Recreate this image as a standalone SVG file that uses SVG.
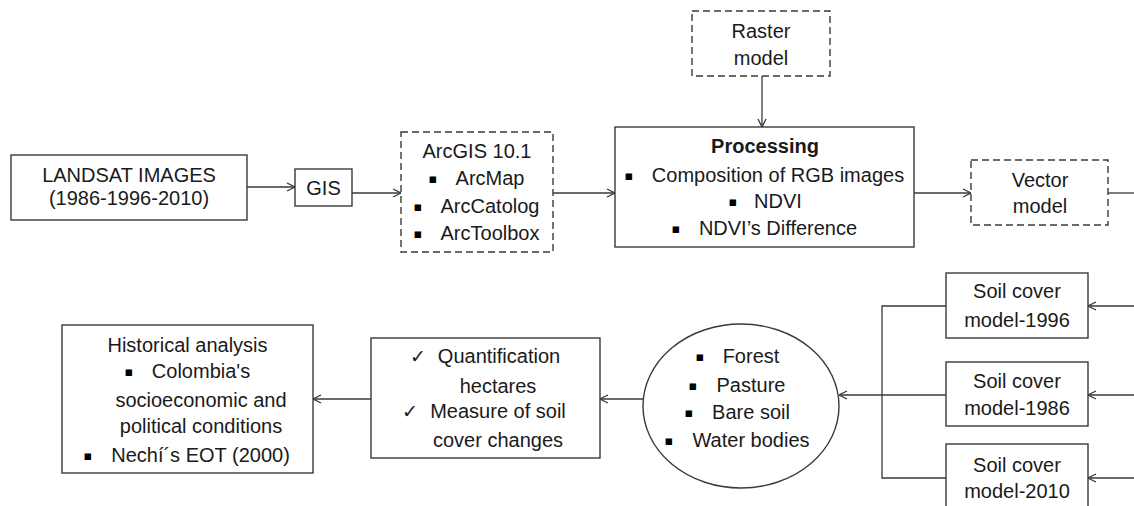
<svg xmlns="http://www.w3.org/2000/svg" width="1134" height="506" viewBox="0 0 1134 506">
<style>
.box{fill:#fff;stroke:#3a3a3a;stroke-width:1.4}
.dash{fill:#fff;stroke:#3a3a3a;stroke-width:1.4;stroke-dasharray:7 4}
.t{font-family:"Liberation Sans","DejaVu Sans",sans-serif;font-size:20px;fill:#1a1a1a}
.c{text-anchor:middle}
.b{font-weight:bold}
.blt{font-family:"DejaVu Sans",sans-serif;font-size:13px;fill:#000;text-anchor:middle}
.chk{font-family:"DejaVu Sans",sans-serif;font-size:19px;fill:#1a1a1a}
.ln{fill:none;stroke:#3a3a3a;stroke-width:1.3}
</style>
<defs>
<marker id="ah" viewBox="0 0 10 10" refX="10" refY="5" markerWidth="10" markerHeight="10" markerUnits="userSpaceOnUse" orient="auto">
<polyline points="2,1 10,5 2,9" fill="none" stroke="#3a3a3a" stroke-width="1.3"/>
</marker>
</defs>

<g id="connectors">
<path class="ln" d="M247,187 H295" marker-end="url(#ah)"/>
<path class="ln" d="M352,193 H401" marker-end="url(#ah)"/>
<path class="ln" d="M553,193 H615" marker-end="url(#ah)"/>
<path class="ln" d="M762,76 V127" marker-end="url(#ah)"/>
<path class="ln" d="M914,193 H971" marker-end="url(#ah)"/>
<path class="ln" d="M1108,193 H1134"/>
<path class="ln" d="M1134,306 H1088" marker-end="url(#ah)"/>
<path class="ln" d="M1134,395 H1088" marker-end="url(#ah)"/>
<path class="ln" d="M1134,478 H1088" marker-end="url(#ah)"/>
<path class="ln" d="M946,306 H882 V478 H946"/>
<path class="ln" d="M946,395 H839" marker-end="url(#ah)"/>
<path class="ln" d="M643,399 H600" marker-end="url(#ah)"/>
<path class="ln" d="M371,399 H313" marker-end="url(#ah)"/>
</g>

<g id="landsat">
<rect class="box" x="11" y="155" width="236" height="65"/>
<text class="t c" x="129" y="182">LANDSAT IMAGES</text>
<text class="t c" x="129" y="205">(1986-1996-2010)</text>
</g>

<g id="gis">
<rect class="box" x="295" y="169" width="57" height="37"/>
<text class="t c" x="323.5" y="195">GIS</text>
</g>

<g id="arcgis">
<rect class="dash" x="401" y="132" width="152" height="120"/>
<text class="t c" x="477" y="158">ArcGIS 10.1</text>
<text class="blt" x="433" y="183">▪</text>
<text class="t c" x="490" y="185">ArcMap</text>
<text class="blt" x="418" y="211">▪</text>
<text class="t c" x="490" y="213">ArcCatolog</text>
<text class="blt" x="418" y="238">▪</text>
<text class="t c" x="490" y="240">ArcToolbox</text>
</g>

<g id="raster">
<rect class="dash" x="692" y="11" width="138" height="65"/>
<text class="t c" x="761" y="38">Raster</text>
<text class="t c" x="761" y="65">model</text>
</g>

<g id="processing">
<rect class="box" x="615" y="127" width="299" height="120"/>
<text class="t c b" x="765" y="153">Processing</text>
<text class="blt" x="629" y="180">▪</text>
<text class="t c" x="778" y="182">Composition of RGB images</text>
<text class="blt" x="733" y="206">▪</text>
<text class="t c" x="778" y="208">NDVI</text>
<text class="blt" x="676" y="233">▪</text>
<text class="t c" x="778" y="235">NDVI’s Difference</text>
</g>

<g id="vector">
<rect class="dash" x="971" y="160" width="137" height="65"/>
<text class="t c" x="1040" y="187">Vector</text>
<text class="t c" x="1040" y="213">model</text>
</g>

<g id="soil1996">
<rect class="box" x="946" y="273" width="142" height="65"/>
<text class="t c" x="1017" y="298">Soil cover</text>
<text class="t c" x="1017" y="327">model-1996</text>
</g>

<g id="soil1986">
<rect class="box" x="946" y="362" width="142" height="64"/>
<text class="t c" x="1017" y="388">Soil cover</text>
<text class="t c" x="1017" y="415">model-1986</text>
</g>

<g id="soil2010">
<rect class="box" x="946" y="444" width="142" height="66"/>
<text class="t c" x="1017" y="472">Soil cover</text>
<text class="t c" x="1017" y="498">model-2010</text>
</g>

<g id="classes">
<ellipse class="box" cx="741" cy="406" rx="98" ry="82"/>
<text class="blt" x="700" y="361">▪</text>
<text class="t c" x="751" y="363">Forest</text>
<text class="blt" x="693" y="390">▪</text>
<text class="t c" x="751" y="392">Pasture</text>
<text class="blt" x="689" y="417">▪</text>
<text class="t c" x="751" y="419">Bare soil</text>
<text class="blt" x="669" y="445">▪</text>
<text class="t c" x="751" y="447">Water bodies</text>
</g>

<g id="quantification">
<rect class="box" x="371" y="338" width="229" height="120"/>
<text class="chk" x="410" y="363">✓</text>
<text class="t c" x="499" y="363">Quantification</text>
<text class="t c" x="498" y="393">hectares</text>
<text class="chk" x="402" y="418">✓</text>
<text class="t c" x="498" y="418">Measure of soil</text>
<text class="t c" x="498" y="447">cover changes</text>
</g>

<g id="historical">
<rect class="box" x="62" y="325" width="251" height="148"/>
<text class="t c" x="187.5" y="352">Historical analysis</text>
<text class="blt" x="129" y="376">▪</text>
<text class="t c" x="201" y="378">Colombia's</text>
<text class="t c" x="201" y="407">socioeconomic and</text>
<text class="t c" x="201" y="433">political conditions</text>
<text class="blt" x="88" y="460">▪</text>
<text class="t c" x="200.5" y="462">Nechí´s EOT (2000)</text>
</g>
</svg>
